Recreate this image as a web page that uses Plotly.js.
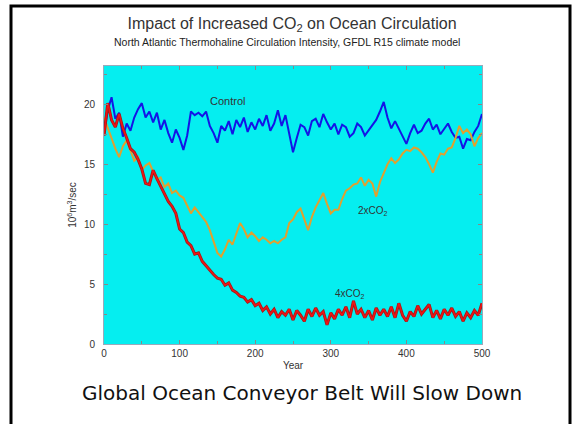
<!DOCTYPE html>
<html>
<head>
<meta charset="utf-8">
<script src="https://cdn.plot.ly/plotly-3.0.1.min.js"></script>
<style>
html,body{margin:0;padding:0;background:#fff;}
#chart{width:575px;height:424px;}
</style>
</head>
<body>
<div id="chart"></div>
<script>
// Years sampled every 5 years
const years = [];
for (let y = 0; y <= 500; y += 5) years.push(y);

const control = [17.6,19.5,20.6,18.8,19.3,17.3,18.4,17.8,18.9,19.6,
  20.1,18.9,19.4,18.5,19.3,17.9,18.7,17.6,16.8,17.9,
  17.2,16.2,17.4,19.4,19.1,19.3,19.0,19.4,18.2,17.6,
  16.8,18.2,17.8,18.6,17.5,18.7,18.1,18.9,17.7,18.5,
  17.9,18.8,18.2,19.1,17.8,18.4,19.5,18.2,19.1,17.4,
  16.0,17.2,18.3,18.1,17.4,18.6,18.8,18.1,19.2,18.5,
  17.9,18.4,17.5,18.3,18.1,17.3,17.6,18.4,18.1,17.4,
  17.8,18.3,18.7,19.4,20.2,18.9,18.0,18.6,18.0,17.4,
  16.7,17.6,18.3,17.6,17.8,18.4,18.8,17.9,18.3,17.5,
  17.9,18.4,17.7,17.2,17.3,16.3,17.1,17.0,17.7,18.2,19.2];

const co2x2 = [18.9,18.0,17.2,16.3,15.6,16.5,17.0,16.1,15.3,15.6,
  14.5,14.9,15.1,14.4,13.7,13.9,13.1,13.4,12.6,12.8,
  12.4,12.2,11.6,10.9,11.4,11.0,10.5,10.2,9.5,8.6,
  7.6,7.3,7.9,8.7,8.3,9.2,10.1,9.6,8.9,9.3,
  9.0,8.6,8.9,8.7,8.4,8.6,8.4,8.7,8.9,10.1,
  10.4,11.0,11.3,10.4,9.5,10.6,11.4,12.0,12.6,11.7,
  10.9,11.2,11.2,12.1,12.8,13.0,13.3,13.4,13.9,13.2,
  13.7,13.4,12.3,13.5,14.2,15.0,15.5,15.1,15.4,15.9,
  16.2,16.1,16.4,16.3,16.0,15.6,15.0,14.3,15.2,15.9,
  15.8,16.3,16.4,17.2,18.2,17.6,17.9,17.5,16.5,17.2,17.6];

const co2x4 = [17.4,20.1,18.7,18.1,19.2,18.0,17.2,16.3,16.0,15.4,
  14.6,13.4,13.3,14.5,13.8,13.2,12.6,11.9,11.5,10.9,
  9.6,9.3,8.5,8.2,7.5,7.6,6.9,6.5,6.2,5.8,
  5.5,5.4,4.9,5.1,4.5,4.3,4.0,3.9,3.5,3.7,
  3.2,3.4,2.8,3.1,2.5,2.9,2.2,2.7,2.4,2.9,
  2.0,2.8,2.4,1.9,2.9,2.3,3.0,2.4,2.7,1.6,
  2.6,2.1,2.9,2.4,3.1,2.2,3.6,2.5,2.9,2.2,
  2.8,2.0,3.0,2.4,2.9,2.3,3.1,2.2,3.4,2.4,
  1.9,2.7,2.3,3.2,2.5,2.9,3.3,2.2,2.8,2.1,
  2.9,2.4,3.0,2.3,2.7,1.9,2.6,2.2,2.8,2.4,3.4];

const xTicks = [0,100,200,300,400,500];
const yTicks = [0,5,10,15,20];

const traces = [
  {x: years, y: control, mode: 'lines', line: {color: '#1414e6', width: 2}, name: 'Control'},
  {x: years, y: co2x2, mode: 'lines', line: {color: '#e0a030', width: 2}, name: '2xCO2'},
  {x: years, y: co2x4, mode: 'lines', line: {color: '#a01818', width: 3}, name: '4xCO2 edge'},
  {x: years, y: co2x4, mode: 'lines', line: {color: '#f01414', width: 1.5}, name: '4xCO2'}
];

const W = 575, H = 424;
const mL = 104, mR = 93, mT = 66, mB = 80;
const pw = W - mL - mR, ph = H - mT - mB;
const px = v => (v - mL) / pw;
const py = v => (H - mB - v) / ph;

const FF = 'Liberation Sans, Arial, sans-serif';
const tf = {family: FF, color: '#333', size: 10};

const layout = {
  width: W, height: H,
  margin: {l: mL, r: mR, t: mT, b: mB, pad: 0},
  paper_bgcolor: '#ffffff',
  plot_bgcolor: '#05eef0',
  showlegend: false,
  title: {
    text: 'Impact of Increased CO<sub>2</sub> on Ocean Circulation',
    font: {family: FF, size: 16, color: '#333'},
    x: px(292), xref: 'paper', xanchor: 'center', y: 1 - 23 / H, yanchor: 'middle'
  },
  xaxis: {
    range: [0, 500], tickvals: xTicks, ticks: 'inside', ticklen: 4, tickcolor: '#888',
    minor: {dtick: 50, ticks: 'inside', ticklen: 3, tickcolor: '#888'},
    showgrid: false, zeroline: false, mirror: 'ticks', showline: true, linecolor: '#9ab', linewidth: 1,
    tickfont: tf, fixedrange: true,
    title: {text: 'Year', font: tf, standoff: 3}
  },
  yaxis: {
    range: [0, 23.2], tickvals: yTicks, ticks: 'inside', ticklen: 4, tickcolor: '#888',
    minor: {dtick: 2.5, ticks: 'inside', ticklen: 3, tickcolor: '#888'},
    showgrid: false, zeroline: false, mirror: 'ticks', showline: true, linecolor: '#9ab', linewidth: 1,
    tickfont: tf, fixedrange: true, ticklabelstandoff: 6,
    title: {text: '10<sup>6</sup>m<sup>3</sup>/sec', font: tf, standoff: 5}
  },
  annotations: [
    {xref: 'paper', yref: 'paper', x: px(287), y: py(42), text: 'North Atlantic Thermohaline Circulation Intensity, GFDL R15 climate model',
     showarrow: false, font: {family: FF, size: 10.5, color: '#222'}, yanchor: 'middle'},
    {x: 164, y: 20.3, text: 'Control', showarrow: false, font: {family: FF, color: '#333', size: 11}},
    {x: 356, y: 11.1, text: '2xCO<sub>2</sub>', showarrow: false, font: tf},
    {x: 326, y: 4.2, text: '4xCO<sub>2</sub>', showarrow: false, font: tf},
    {xref: 'paper', yref: 'paper', x: px(302), y: py(393), text: 'Global Ocean Conveyor Belt Will Slow Down',
     showarrow: false, font: {family: 'DejaVu Sans, sans-serif', size: 20, color: '#111'}, yanchor: 'middle'}
  ],
  shapes: [
    {type: 'rect', xref: 'paper', yref: 'paper', x0: px(11), x1: px(570), y0: py(428), y1: py(6),
     line: {color: '#000', width: 3}, fillcolor: 'rgba(0,0,0,0)', layer: 'above'}
  ]
};

Plotly.newPlot('chart', traces, layout, {staticPlot: true, displayModeBar: false});
</script>
</body>
</html>
